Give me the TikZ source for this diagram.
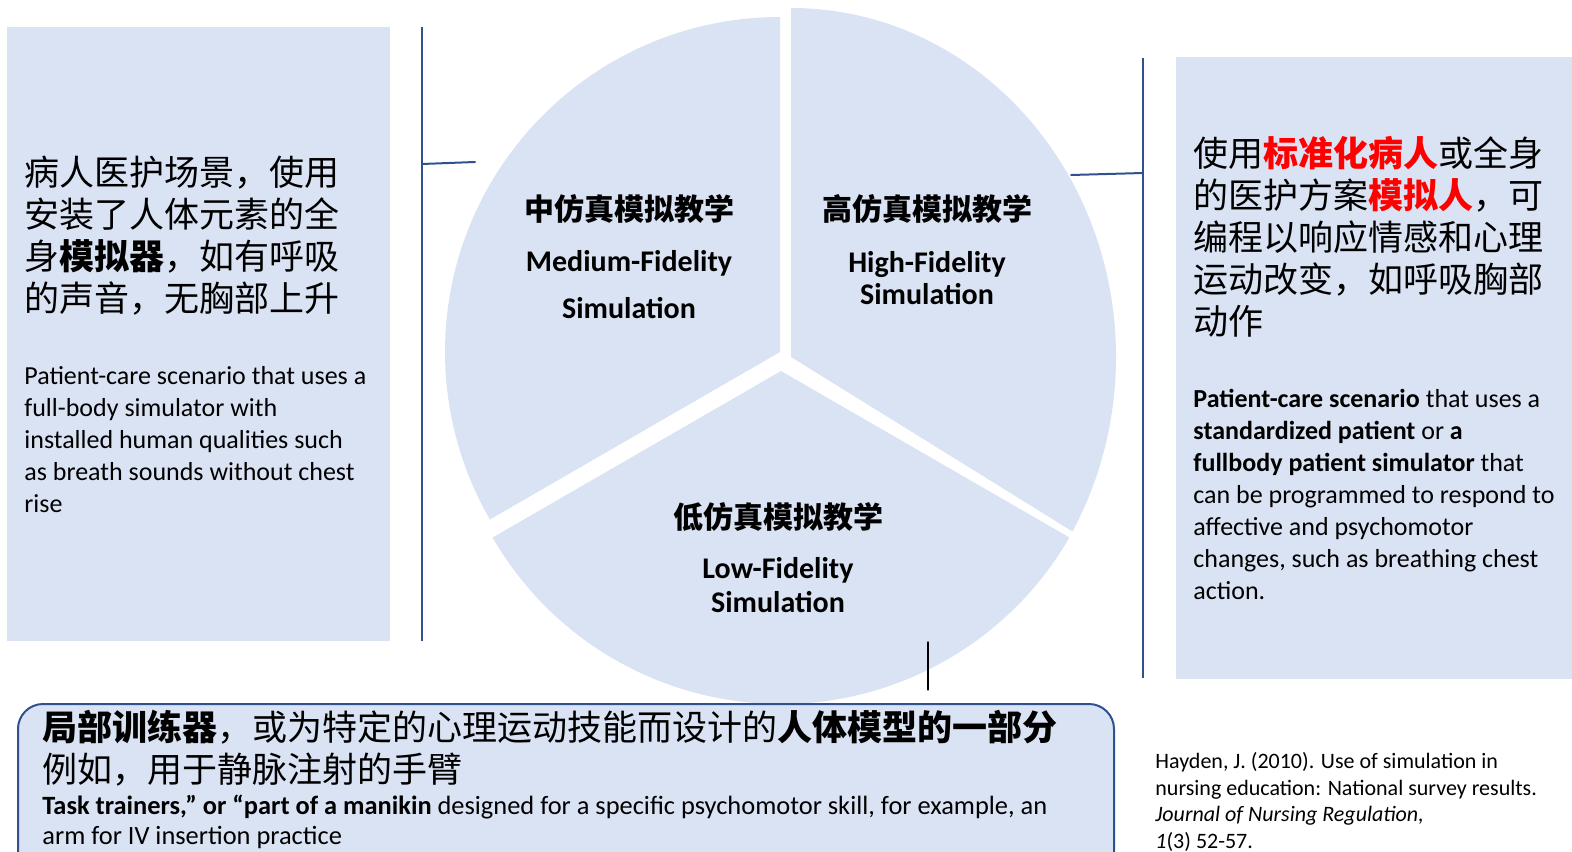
\documentclass[tikz,border=0pt]{standalone}
\usepackage{fontspec}
\setmainfont{Carlito}
\newfontfamily\cjk{Noto Sans CJK SC}
\definecolor{panelblue}{HTML}{DAE3F3}
\definecolor{linkblue}{HTML}{2F528F}
\definecolor{hotred}{HTML}{FF0000}
\begin{document}
\begin{tikzpicture}[x=0.5pt,y=0.5pt,line cap=round,line join=round,
  panel/.style={fill=panelblue},
  link/.style={draw=linkblue,line width=1pt},
  zh/.style={font=\cjk\fontsize{17.5}{21}\selectfont,anchor=base west,align=left,inner sep=0pt},
  en/.style={font=\fontsize{13}{16}\selectfont,anchor=base west,align=left,inner sep=0pt},
  zhtitle/.style={font=\cjk\bfseries\fontsize{15}{18}\selectfont,anchor=base,inner sep=0pt},
  entitle/.style={font=\bfseries\fontsize{15}{#1}\selectfont,anchor=base,align=center,inner sep=0pt}]
  \clip (0,0) rectangle (1572,-851);
  \coordinate (medTip) at (780,-352);
  \coordinate (highTip) at (791,-357);
  \coordinate (lowTip) at (781,-371);
  \fill[panel] (medTip) -- ++(90:335) arc[start angle=90,end angle=210,radius=335] -- cycle;
  \fill[panel] (highTip) -- ++(0,349) arc[start angle=90,end angle=-30,x radius=325,y radius=349] -- cycle;
  \fill[panel] (lowTip) -- ++(210:333) arc[start angle=210,end angle=330,radius=333] -- cycle;
  \fill[panel] (7,-27) rectangle (390,-641);
  \fill[panel] (1176,-57) rectangle (1572,-679);
  \draw[link,fill=panelblue,rounded corners=12.5pt] (18,-704) rectangle (1114,-920);
  \coordinate (leftTop) at (422,-27);
  \coordinate (leftBot) at (422,-641);
  \coordinate (leftMid) at (422,-164);
  \coordinate (medEnd) at (475,-162);
  \coordinate (rightTop) at (1143,-58);
  \coordinate (rightBot) at (1143,-678);
  \coordinate (rightMid) at (1143,-173);
  \coordinate (highEnd) at (1071,-175);
  \coordinate (lowIn) at (928,-642);
  \coordinate (lowOut) at (928,-690);
  \draw[link,line cap=butt] (leftTop) -- (leftBot);
  \draw[link] (leftMid) -- (medEnd);
  \draw[link,line cap=butt] (rightTop) -- (rightBot);
  \draw[link] (highEnd) -- (rightMid);
  \draw[line width=0.6pt] (lowIn) -- (lowOut);
  \node[zhtitle] (medZh) at (629,-220) {中仿真模拟教学};
  \node[entitle=23.5pt] (medEn) at (629,-318) {Medium-Fidelity\\Simulation};
  \node[zhtitle] (highZh) at (927,-220) {高仿真模拟教学};
  \node[entitle=16pt] (highEn) at (927,-304) {High-Fidelity\\Simulation};
  \node[zhtitle] (lowZh) at (778,-528) {低仿真模拟教学};
  \node[entitle=17pt] (lowEn) at (778,-612) {Low-Fidelity\\Simulation};
  \node[zh] (leftZh) at (24,-311) {病人医护场景，使用\\安装了人体元素的全\\身\textbf{模拟器}，如有呼吸\\的声音，无胸部上升};
  \node[en] (leftEn) at (24,-512) {Patient-care scenario that uses a\\full-body simulator with\\installed human qualities such\\as breath sounds without chest\\rise};
  \node[zh] (rightZh) at (1193,-334) {使用\textcolor{hotred}{\textbf{标准化病人}}或全身\\的医护方案\textcolor{hotred}{\textbf{模拟人}}，可\\编程以响应情感和心理\\运动改变，如呼吸胸部\\动作};
  \node[en] (rightEn) at (1193,-599) {\textbf{Patient-care scenario} that uses a\\\textbf{standardized patient} or \textbf{a}\\\textbf{fullbody patient simulator} that\\can be programmed to respond to\\affective and psychomotor\\changes, such as breathing chest\\action.};
  \node[zh] (partZh) at (42,-782) {\textbf{局部训练器}，或为特定的心理运动技能而设计的\textbf{人体模型的一部分}\\例如，用于静脉注射的手臂};
  \node[en,font=\fontsize{13.2}{15}\selectfont] (partEn) at (42,-844) {\textbf{Task trainers,” or “part of a manikin} designed for a specific psychomotor skill, for example, an\\arm for IV insertion practice};
  \node[en,font=\fontsize{11}{13.25}\selectfont] (cite) at (1155,-848) {Hayden, J. (2010). Use of simulation in\\nursing education: National survey results.\\\textit{Journal of Nursing Regulation,}\\\textit{1}(3) 52-57.};
\end{tikzpicture}
\end{document}
